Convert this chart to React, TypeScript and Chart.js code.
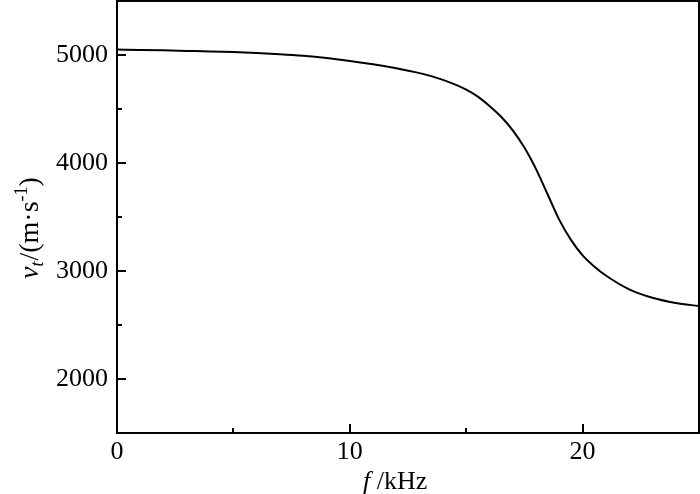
import React, { useEffect, useRef } from "react";
import { Chart, registerables } from "chart.js";

Chart.register(...registerables);

// ---- data ----
const frequencyKHz = [
  0, 1, 2, 3, 4, 5, 6, 7, 8, 9, 10, 11, 12, 13, 14, 15, 15.5, 16, 16.5, 17, 17.5,
  18, 18.5, 19, 19.5, 20, 20.5, 21, 22, 23, 24, 25,
];
const velocity = [
  5050, 5047, 5043, 5038, 5033, 5027, 5019, 5008, 4993, 4972, 4945, 4915, 4878, 4832,
  4770, 4680, 4615, 4528, 4428, 4303, 4143, 3943, 3708, 3473, 3288, 3145, 3042, 2958,
  2830, 2752, 2704, 2675,
];
const xMajorTicks = [0, 10, 20];
const xMinorTicks = [5, 15];
const yMajorTicks = [2000, 3000, 4000, 5000];
const yMinorTicks = [2500, 3500, 4500];
const X_MIN = 0;
const X_MAX = 25;
const Y_MIN = 1500;
const Y_MAX = 5500;

const SERIF = '"Liberation Serif", "Times New Roman", Times, serif';

const frameTicksTitles = {
  id: "frameTicksTitles",
  afterDraw(chart: any) {
    const { ctx, chartArea: a, scales } = chart;
    const xs = scales.x;
    const ys = scales.y;
    ctx.save();
    ctx.strokeStyle = "#000";
    ctx.lineWidth = 2;
    ctx.strokeRect(a.left, a.top, a.right - a.left, a.bottom - a.top);

    ctx.beginPath();
    xMajorTicks.forEach((v) => {
      const p = Math.round(xs.getPixelForValue(v));
      ctx.moveTo(p, a.bottom);
      ctx.lineTo(p, a.bottom - 9);
    });
    xMinorTicks.forEach((v) => {
      const p = Math.round(xs.getPixelForValue(v));
      ctx.moveTo(p, a.bottom);
      ctx.lineTo(p, a.bottom - 5);
    });
    yMajorTicks.forEach((v) => {
      const p = Math.round(ys.getPixelForValue(v));
      ctx.moveTo(a.left, p);
      ctx.lineTo(a.left + 9, p);
    });
    yMinorTicks.forEach((v) => {
      const p = Math.round(ys.getPixelForValue(v));
      ctx.moveTo(a.left, p);
      ctx.lineTo(a.left + 5, p);
    });
    ctx.stroke();

    // x axis title: f /kHz
    ctx.fillStyle = "#000";
    ctx.textAlign = "left";
    ctx.textBaseline = "alphabetic";
    const xt0 = 363;
    const xtb = 489;
    ctx.font = `italic 26px ${SERIF}`;
    ctx.fillText("f", xt0, xtb);
    const fw = ctx.measureText("f").width;
    ctx.font = `26px ${SERIF}`;
    ctx.fillText(" /kHz", xt0 + fw, xtb);

    // y axis title: v_t/(m·s^-1)
    ctx.translate(38, 279);
    ctx.rotate(-Math.PI / 2);
    let cx = 0;
    const big = 28;
    const small = 18;
    ctx.font = `italic ${big}px ${SERIF}`;
    ctx.fillText("v", cx, 0);
    cx += ctx.measureText("v").width;
    ctx.font = `italic ${small}px ${SERIF}`;
    ctx.fillText("t", cx, 5);
    cx += ctx.measureText("t").width + 1;
    ctx.font = `${big}px ${SERIF}`;
    ctx.fillText("/(m·s", cx, 0);
    cx += ctx.measureText("/(m·s").width;
    ctx.font = `${small}px ${SERIF}`;
    ctx.fillText("-1", cx, -11);
    cx += ctx.measureText("-1").width;
    ctx.font = `${big}px ${SERIF}`;
    ctx.fillText(")", cx, 0);
    ctx.restore();
  },
};

export default function App() {
  const canvasRef = useRef<HTMLCanvasElement | null>(null);

  useEffect(() => {
    const canvas = canvasRef.current;
    if (!canvas) return;
    const points = frequencyKHz.map((f, i) => ({ x: f, y: velocity[i] }));
    const zeroPad = (s: any) => {
      s.paddingTop = 0;
      s.paddingBottom = 0;
      s.paddingLeft = 0;
      s.paddingRight = 0;
    };
    const chart = new Chart(canvas, {
      type: "line",
      data: {
        datasets: [
          {
            data: points,
            borderColor: "#000",
            borderWidth: 2,
            pointRadius: 0,
            fill: false,
            cubicInterpolationMode: "monotone",
          },
        ],
      },
      options: {
        animation: false,
        responsive: false,
        devicePixelRatio: 1,
        layout: { padding: { top: 1, right: 1, left: 0, bottom: 0 } },
        plugins: { legend: { display: false }, tooltip: { enabled: false } },
        scales: {
          x: {
            type: "linear",
            min: X_MIN,
            max: X_MAX,
            grid: { display: false, drawTicks: false },
            border: { display: false },
            ticks: {
              color: "#000",
              font: { family: SERIF, size: 26 },
              padding: 4,
              maxRotation: 0,
              autoSkip: false,
              callback: (v: any) => String(v),
            },
            afterBuildTicks: (s: any) => {
              s.ticks = xMajorTicks.map((v) => ({ value: v }));
            },
            afterFit: (s: any) => {
              s.height = 61;
              zeroPad(s);
            },
          },
          y: {
            type: "linear",
            min: Y_MIN,
            max: Y_MAX,
            grid: { display: false, drawTicks: false },
            border: { display: false },
            ticks: {
              color: "#000",
              font: { family: SERIF, size: 26 },
              padding: 9,
              autoSkip: false,
              callback: (v: any) => String(v),
            },
            afterBuildTicks: (s: any) => {
              s.ticks = yMajorTicks.map((v) => ({ value: v }));
            },
            afterFit: (s: any) => {
              s.width = 117;
              zeroPad(s);
            },
          },
        },
      },
      plugins: [frameTicksTitles],
    });
    return () => chart.destroy();
  }, []);

  return (
    <div style={{ position: "absolute", left: 0, top: 0, width: 700, height: 494, background: "#fff" }}>
      <canvas ref={canvasRef} width={700} height={494} style={{ display: "block" }} />
    </div>
  );
}
